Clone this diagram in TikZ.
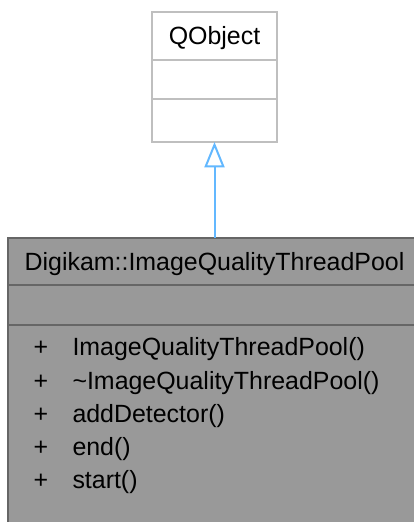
\documentclass[tikz,border=0pt]{standalone}
\usepackage{fontspec}
\setmainfont{Liberation Sans}
\usetikzlibrary{arrows.meta}
\definecolor{qborder}{HTML}{BFBFBF}
\definecolor{tfill}{HTML}{999999}
\definecolor{tborder}{HTML}{666666}
\definecolor{inhcol}{HTML}{63B8FF}
\begin{document}
\begin{tikzpicture}[x=0.75pt,y=-0.75pt,
  font=\fontsize{18.7}{22}\selectfont,
  capt/.style={inner sep=0pt, outer sep=0pt, text height=13.4pt, text depth=0pt},
  qbox/.style={draw=qborder, fill=white, line width=1.5pt, inner sep=0pt, outer sep=0pt,
     minimum width=93.75pt, text height=13.4pt, text depth=0pt, anchor=north},
  tbox/.style={draw=tborder, fill=tfill, line width=1.5pt, inner sep=0pt, outer sep=0pt,
     minimum width=309.75pt, text height=13.4pt, text depth=0pt, anchor=north},
  inh/.style={draw=inhcol, line width=1.5pt,
     -{Triangle[open, length=19pt, width=15pt, line width=1.5pt]}},
  plus/.style={capt, anchor=center},
  member/.style={capt, anchor=west}
]
\useasboundingbox (0,0) rectangle (414,522);
\clip (0,0) rectangle (414,522);

% QObject
\node[qbox, minimum height=36pt] (qtitle) at (214.5,12) {QObject};
\node[qbox, minimum height=29.25pt] (qattr) at (qtitle.south) {};
\node[qbox, minimum height=32.25pt] (qmeth) at (qattr.south) {};

% Digikam::ImageQualityThreadPool
\node[tbox, minimum height=35.25pt] (ttitle) at (214.5,238) {Digikam::ImageQualityThreadPool};
\node[tbox, minimum height=30pt] (tattr) at (ttitle.south) {};
\node[tbox, minimum height=160pt, anchor=north] (tmeth) at (tattr.south) {};

\node[plus] (p1) at (41,347) {+};
\node[member] (m1) at (72.5,347) {ImageQualityThreadPool()};
\node[plus] (p2) at (41,380.3) {+};
\node[member] (m2) at (72.5,380.3) {\char`~ImageQualityThreadPool()};
\node[plus] (p3) at (41,413.5) {+};
\node[member] (m3) at (72.5,413.5) {addDetector()};
\node[plus] (p4) at (41,446.8) {+};
\node[member] (m4) at (72.5,446.8) {end()};
\node[plus] (p5) at (41,480) {+};
\node[member] (m5) at (72.5,480) {start()};

% inheritance
\draw[inh] (ttitle.north) -- (qmeth.south);
\end{tikzpicture}
\end{document}
